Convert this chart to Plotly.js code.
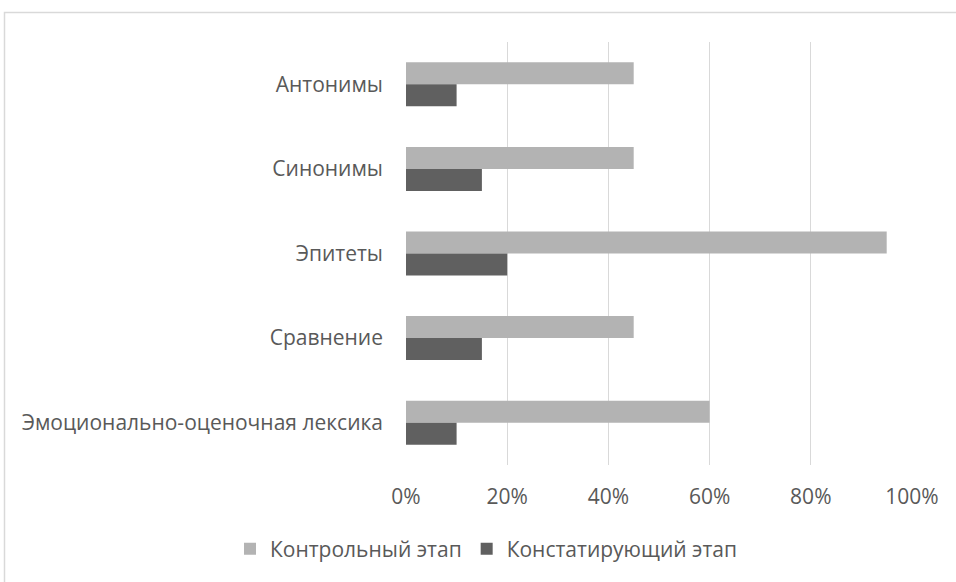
<!DOCTYPE html>
<html><head><meta charset="utf-8">
<script src="https://cdn.plot.ly/plotly-3.0.1.min.js"></script>
<style>html,body{margin:0;padding:0;background:#fff;}#chart{width:956px;height:582px;}</style>
</head><body><div id="chart"></div>
<script>
const categories = ["Антонимы", "Синонимы", "Эпитеты", "Сравнение", "Эмоционально-оценочная лексика"];
const seriesNames = ["Контрольный этап", "Констатирующий этап"];
const controlValues = [0.45, 0.45, 0.95, 0.45, 0.60];
const statingValues = [0.10, 0.15, 0.20, 0.15, 0.10];
const xTickValues = [0, 0.2, 0.4, 0.6, 0.8, 1.0];
const xTickLabels = ["0%", "20%", "40%", "60%", "80%", "100%"];

const font = {family: "Open Sans, sans-serif", size: 21, color: "#595959"};
const legendFont = {family: "Open Sans, sans-serif", size: 21, color: "#595959"};
const L = 406, R = 44, T = 42, B = 117, W = 956, H = 582;
const pw = W - L - R, ph = H - T - B;

const traces = [
  {type: "bar", orientation: "h", name: seriesNames[0], y: categories, x: controlValues,
   marker: {color: "#b3b3b3"}, hoverinfo: "x+y"},
  {type: "bar", orientation: "h", name: seriesNames[1], y: categories, x: statingValues,
   marker: {color: "#606060"}, hoverinfo: "x+y"}
];

const layout = {
  width: W, height: H,
  margin: {l: L, r: R, t: T, b: B, pad: 0},
  paper_bgcolor: "#fff", plot_bgcolor: "#fff",
  font: font,
  barmode: "group", bargap: 0.48, bargroupgap: 0,
  xaxis: {range: [0, 1], tickvals: xTickValues, ticktext: xTickLabels, showgrid: true,
    gridcolor: "#d9d9d9", gridwidth: 1, zeroline: false, showline: false, ticks: "",
    ticklabelstandoff: 17, tickfont: font, fixedrange: true},
  yaxis: {autorange: "reversed", showgrid: false, zeroline: false, showline: false, ticks: "",
    ticklabelstandoff: 22, tickfont: font, fixedrange: true},
  showlegend: true,
  legend: {orientation: "h", x: (230 - L) / pw, xanchor: "left", y: -(549 - (T + ph)) / ph, yanchor: "middle",
    font: legendFont, traceorder: "normal", itemwidth: 30},
  shapes: [{type: "rect", xref: "paper", yref: "paper",
    x0: (4.5 - L) / pw, x1: 2, y0: -1, y1: 1 + (T - 12.5) / ph,
    line: {color: "#d9d9d9", width: 1.5}, fillcolor: "rgba(0,0,0,0)", layer: "below"}]
};

Plotly.newPlot("chart", traces, layout, {displayModeBar: false, staticPlot: true});
</script></body></html>
